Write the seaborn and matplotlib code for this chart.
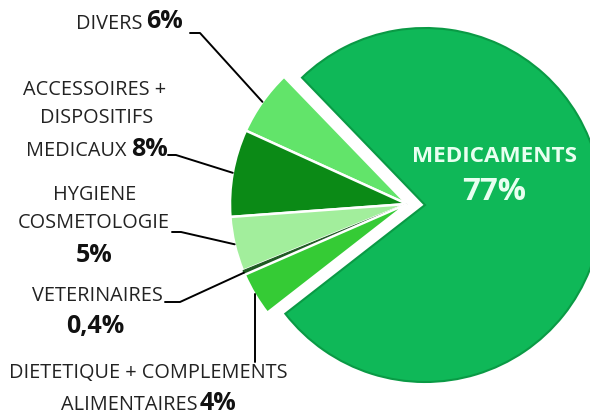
import numpy as np
import matplotlib
matplotlib.use("Agg")
import matplotlib.pyplot as plt
import seaborn as sns

# ---- data ----
categories = ["DIVERS", "ACCESSOIRES + DISPOSITIFS MEDICAUX", "HYGIENE COSMETOLOGIE",
              "VETERINAIRES", "DIETETIQUE + COMPLEMENTS ALIMENTAIRES", "MEDICAMENTS"]
values = [6, 8, 5, 0.4, 4, 77]
pct_labels = ["6%", "8%", "5%", "0,4%", "4%", "77%"]
colors = ["#62E46A", "#0B8A16", "#A2EE9C", "#1E5A22", "#35CB35", "#0FB858"]

sns.set_theme(style="white")
plt.rcParams['font.family'] = ['Open Sans', 'DejaVu Sans']

W, H = 590, 416
fig = plt.figure(figsize=(W / 100, H / 100), dpi=100)
ax = fig.add_axes([0, 0, 1, 1])

R = 177
big_center = (425, H - 205)
small_center = (407, H - 204)
start = 134

# big slice (Medicaments) - small ones invisible
big_cols = ["none"] * 5 + [colors[5]]
w_big, _ = ax.pie(values, colors=big_cols, startangle=start, counterclock=True,
                  radius=R, center=big_center, frame=True,
                  wedgeprops=dict(linewidth=0))
w_big[5].set_edgecolor("#0A9A45")
w_big[5].set_linewidth(1.5)

# small slices, shifted left
small_cols = colors[:5] + ["none"]
w_small, _ = ax.pie(values, colors=small_cols, startangle=start, counterclock=True,
                    radius=R, center=small_center, frame=True,
                    wedgeprops=dict(linewidth=1.8, edgecolor="white"))
w_small[5].set_edgecolor("none")
w_small[3].set_edgecolor("#1E5A22")
w_small[3].set_linewidth(0.8)

ax.set_xlim(0, W)
ax.set_ylim(0, H)
ax.set_aspect("equal")
ax.axis("off")

def arc_point(w):
    th = np.deg2rad((w.theta1 + w.theta2) / 2)
    cx, cy = w.center
    return cx + w.r * np.cos(th), cy + w.r * np.sin(th)

def Y(y):
    return H - y

reg = dict(fontsize=14.3, color="#222222", va="center")
bold = dict(fontsize=18, color="#111111", fontweight="bold", va="center")

# DIVERS
ax.text(142, Y(24), "DIVERS", ha="right", **reg)
ax.text(146, Y(22), pct_labels[0], ha="left", **bold)
px, py = arc_point(w_small[0])
ax.plot([190, 200, px], [Y(33), Y(33), py], color="black", lw=1.4)

# ACCESSOIRES
ax.text(95, Y(90), "ACCESSOIRES +", ha="center", **reg)
ax.text(97, Y(118), "DISPOSITIFS", ha="center", **reg)
ax.text(127, Y(151), "MEDICAUX", ha="right", **reg)
ax.text(131, Y(149), pct_labels[1], ha="left", **bold)
px, py = arc_point(w_small[1])
ax.plot([168, 176, px], [Y(155), Y(155), py], color="black", lw=1.4)

# HYGIENE
ax.text(95, Y(195), "HYGIENE", ha="center", **reg)
ax.text(94, Y(223), "COSMETOLOGIE", ha="center", **reg)
ax.text(94, Y(256), pct_labels[2], ha="center", **bold)
px, py = arc_point(w_small[2])
ax.plot([172, 181, px], [Y(232), Y(232), py], color="black", lw=1.4)

# VETERINAIRES
ax.text(97, Y(296), "VETERINAIRES", ha="center", **reg)
ax.text(95, Y(327), pct_labels[3], ha="center", **bold)
px, py = arc_point(w_small[3])
ax.plot([165, 180, px], [Y(302), Y(302), py], color="black", lw=1.4)

# DIETETIQUE
ax.text(148, Y(373), "DIETETIQUE + COMPLEMENTS", ha="center", **reg)
ax.text(198, Y(405), "ALIMENTAIRES", ha="right", **reg)
ax.text(200, Y(403), pct_labels[4], ha="left", **bold)
px, py = arc_point(w_small[4])
ax.plot([px, px], [py, Y(362)], color="black", lw=1.4)

# MEDICAMENTS
ax.text(495, Y(157), "MEDICAMENTS", ha="center", va="center", fontsize=16.2,
        fontweight="bold", color="#E8FFF0")
ax.text(494, Y(192), pct_labels[5], ha="center", va="center", fontsize=22.5,
        fontweight="bold", color="#E8FFF0")

fig.savefig("out.png", dpi=100)
